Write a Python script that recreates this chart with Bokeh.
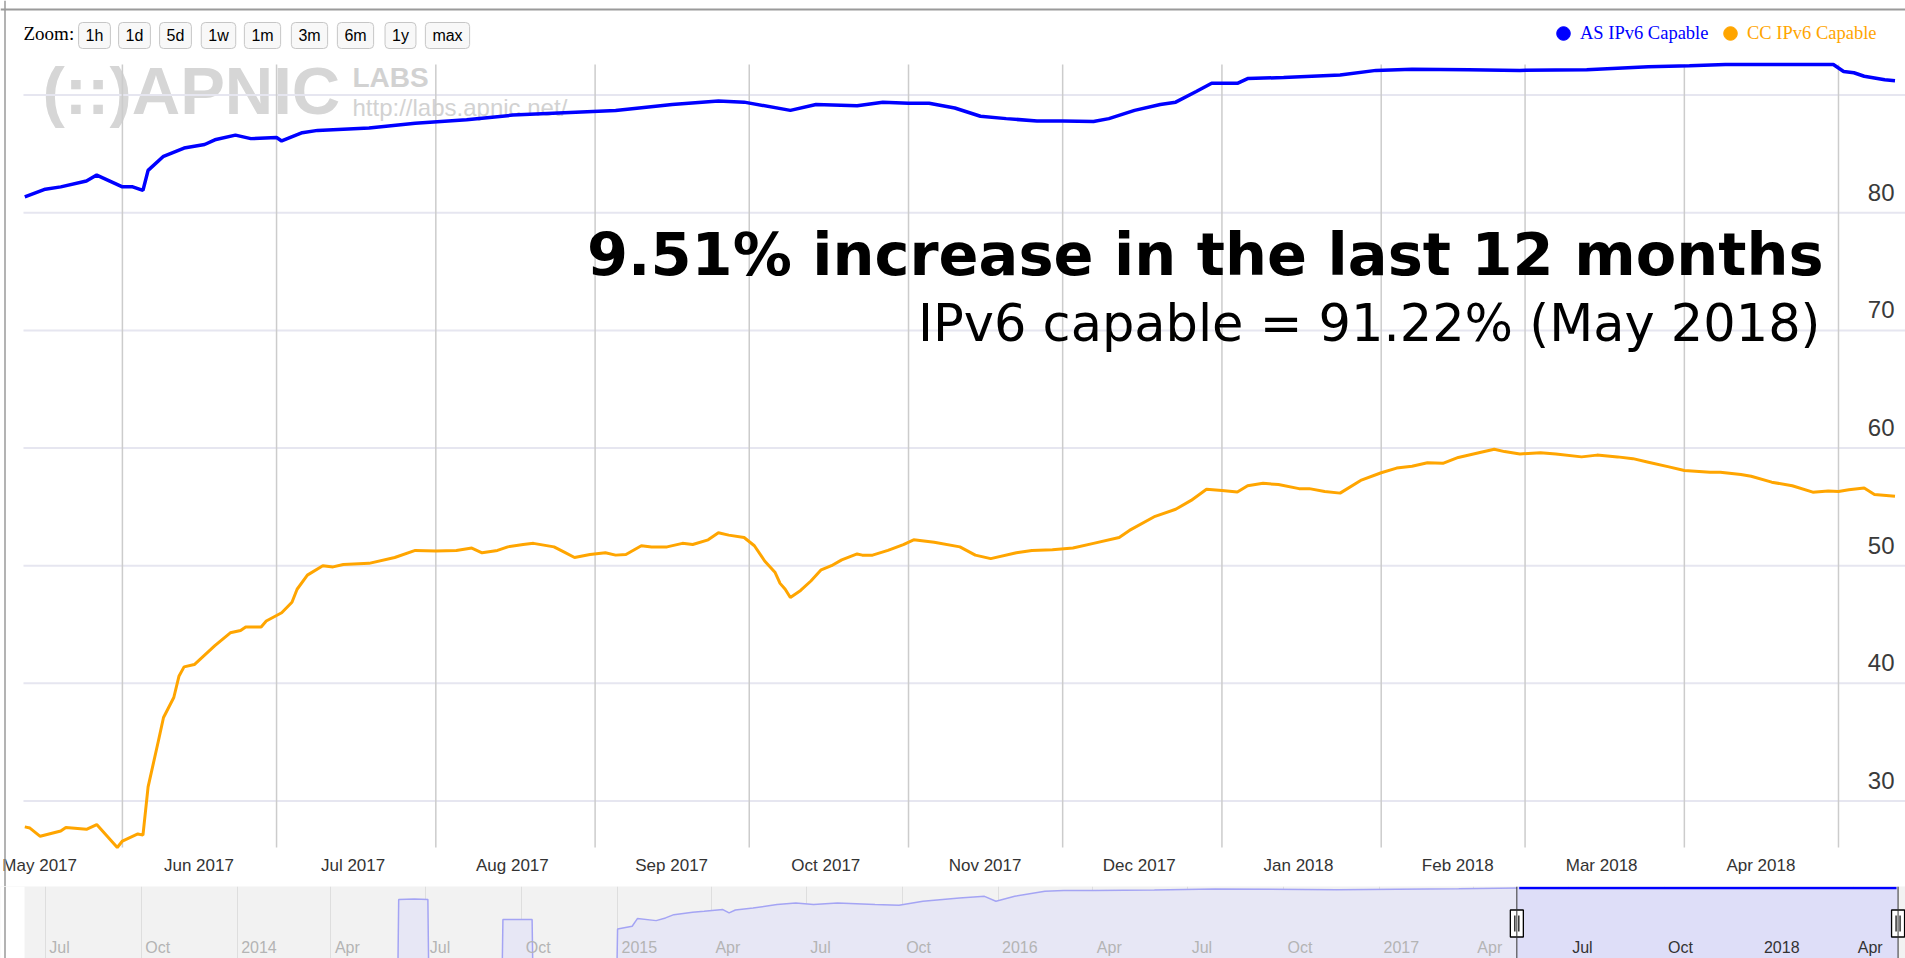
import pandas as pd
from bokeh.plotting import figure
from bokeh.layouts import column
from bokeh.models import (Range1d, FixedTicker, Label, Legend, LegendItem, Span, BoxAnnotation)
from bokeh.core.properties import value
from bokeh.embed import file_html
from bokeh.resources import INLINE

# ------------------------------------------------------------------ data
series_names = ["AS IPv6 Capable", "CC IPv6 Capable"]
series_colors = ["#0000ff", "#ffa500"]

as_dates = ["2017-05-13", "2017-05-17", "2017-05-20", "2017-05-25", "2017-05-27", "2017-06-01",
            "2017-06-03", "2017-06-05", "2017-06-06", "2017-06-09", "2017-06-13", "2017-06-17",
            "2017-06-19", "2017-06-23", "2017-06-26", "2017-07-01", "2017-07-02", "2017-07-06",
            "2017-07-09", "2017-07-19", "2017-07-28", "2017-08-07", "2017-08-16", "2017-08-26",
            "2017-09-05", "2017-09-16", "2017-09-25", "2017-09-30", "2017-10-09", "2017-10-14",
            "2017-10-22", "2017-10-27", "2017-11-01", "2017-11-05", "2017-11-10", "2017-11-15",
            "2017-11-20", "2017-11-26", "2017-12-01", "2017-12-07", "2017-12-10", "2017-12-15",
            "2017-12-20", "2017-12-23", "2017-12-27", "2017-12-30", "2018-01-04", "2018-01-06",
            "2018-01-13", "2018-01-24", "2018-01-31", "2018-02-07", "2018-02-18", "2018-02-28",
            "2018-03-13", "2018-03-25", "2018-04-02", "2018-04-09", "2018-04-30", "2018-05-02",
            "2018-05-04", "2018-05-06", "2018-05-10", "2018-05-12"]
as_values = [81.35, 82.0, 82.2, 82.7, 83.2, 82.2, 82.2, 81.9, 83.6, 84.8, 85.5, 85.8,
             86.2, 86.6, 86.3, 86.4, 86.1, 86.8, 87.0, 87.2, 87.6, 87.9, 88.3, 88.5,
             88.7, 89.2, 89.5, 89.4, 88.7, 89.2, 89.1, 89.4, 89.3, 89.3, 88.9, 88.2,
             88.0, 87.8, 87.8, 87.75, 88.0, 88.7, 89.2, 89.4, 90.3, 91.0, 91.0, 91.4,
             91.5, 91.7, 92.1, 92.2, 92.15, 92.1, 92.15, 92.4, 92.5, 92.6, 92.6, 92.0,
             91.9, 91.6, 91.3, 91.22]

cc_dates = ["2017-05-13", "2017-05-14", "2017-05-16", "2017-05-20", "2017-05-21", "2017-05-25",
            "2017-05-27", "2017-05-31", "2017-06-01", "2017-06-04", "2017-06-05", "2017-06-06",
            "2017-06-08", "2017-06-09", "2017-06-11", "2017-06-12", "2017-06-13", "2017-06-15",
            "2017-06-18", "2017-06-19", "2017-06-22", "2017-06-24", "2017-06-25", "2017-06-28",
            "2017-06-29", "2017-07-02", "2017-07-04", "2017-07-05", "2017-07-07", "2017-07-10",
            "2017-07-12", "2017-07-14", "2017-07-19", "2017-07-24", "2017-07-28", "2017-08-01",
            "2017-08-05", "2017-08-08", "2017-08-10", "2017-08-13", "2017-08-15", "2017-08-18",
            "2017-08-20", "2017-08-24", "2017-08-26", "2017-08-28", "2017-08-31", "2017-09-03",
            "2017-09-05", "2017-09-07", "2017-09-10", "2017-09-12", "2017-09-15", "2017-09-18",
            "2017-09-20", "2017-09-23", "2017-09-25", "2017-09-27", "2017-09-30", "2017-10-02",
            "2017-10-04", "2017-10-06", "2017-10-07", "2017-10-08", "2017-10-09", "2017-10-11",
            "2017-10-13", "2017-10-15", "2017-10-17", "2017-10-19", "2017-10-22", "2017-10-23",
            "2017-10-25", "2017-10-28", "2017-10-31", "2017-11-02", "2017-11-06", "2017-11-11",
            "2017-11-14", "2017-11-17", "2017-11-22", "2017-11-25", "2017-11-29", "2017-12-03",
            "2017-12-07", "2017-12-12", "2017-12-14", "2017-12-19", "2017-12-23", "2017-12-26",
            "2017-12-29", "2018-01-01", "2018-01-04", "2018-01-06", "2018-01-09", "2018-01-12",
            "2018-01-16", "2018-01-18", "2018-01-21", "2018-01-24", "2018-01-28", "2018-02-01",
            "2018-02-04", "2018-02-07", "2018-02-10", "2018-02-13", "2018-02-16", "2018-02-20",
            "2018-02-23", "2018-02-25", "2018-02-28", "2018-03-04", "2018-03-07", "2018-03-12",
            "2018-03-15", "2018-03-19", "2018-03-22", "2018-03-25", "2018-03-29", "2018-04-01",
            "2018-04-06", "2018-04-08", "2018-04-12", "2018-04-14", "2018-04-18", "2018-04-22",
            "2018-04-26", "2018-04-29", "2018-05-01", "2018-05-03", "2018-05-06", "2018-05-08",
            "2018-05-12"]
cc_values = [27.8, 27.7, 27.0, 27.45, 27.75, 27.6,
             28.0, 26.05, 26.6, 27.2, 27.1, 31.2,
             35.1, 37.1, 38.8, 40.6, 41.4, 41.6,
             42.8, 43.2, 44.3, 44.5, 44.8, 44.8,
             45.3, 46.0, 46.9, 48.0, 49.2, 50.0,
             49.9, 50.1, 50.2, 50.7, 51.3, 51.25,
             51.3, 51.5, 51.1, 51.3, 51.6, 51.8,
             51.9, 51.6, 51.15, 50.7, 50.95, 51.1,
             50.9, 50.95, 51.7, 51.6, 51.6, 51.9,
             51.8, 52.2, 52.8, 52.6, 52.4, 51.7,
             50.4, 49.45, 48.5, 48.0, 47.3, 47.9,
             48.7, 49.65, 50.0, 50.5, 51.0, 50.9,
             50.9, 51.3, 51.8, 52.2, 52.0, 51.6,
             50.9, 50.6, 51.1, 51.3, 51.35, 51.5,
             51.9, 52.4, 53.0, 54.2, 54.8, 55.55,
             56.5, 56.4, 56.26, 56.8, 57.0, 56.9,
             56.55, 56.55, 56.3, 56.17, 57.25, 57.9,
             58.3, 58.45, 58.75, 58.7, 59.2, 59.6,
             59.9, 59.7, 59.5, 59.6, 59.5, 59.25,
             59.4, 59.25, 59.1, 58.8, 58.4, 58.1,
             57.95, 57.95, 57.75, 57.6, 57.1, 56.8,
             56.25, 56.35, 56.3, 56.45, 56.6, 56.05,
             55.9]

# navigator (overview) series, in the navigator's own scale
nav_dates = ["2013-06-11", "2014-06-04", "2014-06-05", "2014-06-20", "2014-07-03", "2014-07-04",
             "2014-09-12", "2014-09-13", "2014-10-11", "2014-10-12", "2014-12-31", "2015-01-01",
             "2015-01-15", "2015-01-20", "2015-02-07", "2015-02-16", "2015-02-24", "2015-03-14",
             "2015-03-25", "2015-04-12", "2015-04-18", "2015-04-24", "2015-05-11", "2015-06-03",
             "2015-06-21", "2015-07-08", "2015-07-31", "2015-09-05", "2015-09-28", "2015-10-21",
             "2015-11-25", "2015-12-19", "2015-12-30", "2016-01-17", "2016-02-15", "2016-03-04",
             "2016-04-02", "2016-05-30", "2016-07-27", "2016-11-21", "2017-03-18", "2017-05-15",
             "2018-05-12"]
nav_values = [0, 0, 81.4, 82.0, 81.4, 0,
              0, 63.7, 63.7, 0, 0, 55.4,
              57.8, 64.6, 62.8, 65.2, 68.1, 70.2,
              71.1, 72.6, 69.6, 72.2, 74.0, 77.0,
              78.4, 77.0, 78.4, 77.0, 76.4, 79.9,
              82.8, 84.3, 79.9, 84.3, 88.8, 89.4,
              89.4, 89.8, 90.8, 90.2, 91.0, 91.7,
              91.7]

y_label_values = [30, 40, 50, 60, 70, 80]
y_grid_values = [30, 40, 50, 60, 70, 80, 90]
zoom_buttons = ["1h", "1d", "5d", "1w", "1m", "3m", "6m", "1y", "max"]
zoom_title = "Zoom:"
headline = "9.51% increase in the last 12 months"
subline = "IPv6 capable = 91.22% (May 2018)"
logo_texts = ["(::)APNIC", "LABS", "http://labs.apnic.net/"]

view_start = pd.Timestamp("2017-05-12 18:00")   # left edge of the data area
view_end = pd.Timestamp("2018-05-14 01:00")     # right edge of the data area
sel_end = pd.Timestamp("2018-05-13 12:00")      # right navigator handle
nav_start = pd.Timestamp("2013-06-11")
nav_end = pd.Timestamp("2018-05-12")
NAV_Y1 = 93.0
NAV_PX_PER_UNIT = 1.13

# ------------------------------------------------------------------ layout constants
W, H_MAIN, H_NAV = 1905, 886, 72
DATA_L, DATA_R = 23, 1905        # page x of view_start / view_end
DATA_T, DATA_B = 64, 847         # page y of data max / data min
NAV_L, NAV_R = 24, 1896          # page x of nav_start / nav_end
TXT_SHIFT = 0.4                  # baseline correction (em)
BORDER = "#9a9a9a"


def sx(px):
    return px


def sy(py):
    return H_MAIN - py


def to_ms(ts):
    return pd.Timestamp(ts).value // 10**6


as_x = pd.to_datetime(as_dates)
cc_x = pd.to_datetime(cc_dates)
nav_x = pd.to_datetime(nav_dates)

ymin = min(min(as_values), min(cc_values))
ymax = max(max(as_values), max(cc_values))

ms_per_px = (to_ms(view_end) - to_ms(view_start)) / (DATA_R - DATA_L)
x_lo = to_ms(view_start) - DATA_L * ms_per_px
x_hi = to_ms(view_end) + (W - DATA_R) * ms_per_px
u_per_px = (ymax - ymin) / (DATA_B - DATA_T)
y_lo = ymin - (H_MAIN - DATA_B) * u_per_px
y_hi = ymax + DATA_T * u_per_px

# ------------------------------------------------------------------ main chart
p = figure(width=W, height=H_MAIN, x_axis_location=None, y_axis_location=None,
           x_range=Range1d(x_lo, x_hi), y_range=Range1d(y_lo, y_hi),
           output_backend="svg", toolbar_location=None,
           min_border_left=0, min_border_right=0, min_border_top=0, min_border_bottom=0)
p.outline_line_color = None
p.background_fill_color = "white"
p.border_fill_color = "white"
p.xgrid.visible = False
p.ygrid.visible = False

# watermark logo
logo_specs = [
    (logo_texts[0], 42, 117, "bold", 67, "#d6d6d6"),
    (logo_texts[1], 352, 88, "bold", 28, "#d2d2d2"),
    (logo_texts[2], 352, 117, "normal", 24, "#d2d2d2"),
]
for txt, px, py, style, size, col in logo_specs:
    p.add_layout(Label(x=sx(px), y=sy(py - TXT_SHIFT * size), x_units="screen", y_units="screen",
                       text=txt, text_font="Liberation Sans", text_font_style=style,
                       text_font_size=f"{size}px", text_color=col, text_align="left",
                       text_baseline="alphabetic", level="underlay"))

# grid lines (only across the data area)
grid_months = pd.date_range("2017-06-01", "2018-05-01", freq="MS")
p.segment(x0=[view_start] * len(y_grid_values), y0=y_grid_values,
          x1=[view_end] * len(y_grid_values), y1=y_grid_values,
          line_color="#e6e6f0", line_width=2)
p.segment(x0=list(grid_months), y0=[ymin] * len(grid_months),
          x1=list(grid_months), y1=[ymax] * len(grid_months),
          line_color="#cccccc", line_width=1.5)

# series lines
p.line(as_x, as_values, line_color=series_colors[0], line_width=3.5)
p.line(cc_x, cc_values, line_color=series_colors[1], line_width=3)

# y tick labels, inside the plot area above their grid lines
p.text(x=[view_end] * len(y_label_values), y=y_label_values,
       text=[str(v) for v in y_label_values], x_offset=-11, y_offset=-11 - TXT_SHIFT * 24,
       text_align="right", text_baseline="alphabetic",
       text_font=value("Liberation Sans"), text_font_size="24px", text_color="#3a3a3a")

# x tick labels (month names, centred half a month after the grid line)
label_months = pd.date_range("2017-05-01", "2018-05-01", freq="MS")
label_pos = [m + pd.Timedelta(days=14.9) for m in label_months]
keep = [i for i, t in enumerate(label_pos) if t <= view_end]
p.text(x=[label_pos[i] for i in keep], y=[ymin] * len(keep),
       text=[label_months[i].strftime("%b %Y") for i in keep],
       y_offset=25 - TXT_SHIFT * 17, text_align="center", text_baseline="alphabetic",
       text_font=value("Liberation Sans"), text_font_size="17px", text_color="#333333")

# legend (dots)
dot_as = p.scatter(x=[as_x[-1]], y=[as_values[-1]], marker="circle", size=14,
                   color=series_colors[0], visible=False)
dot_cc = p.scatter(x=[cc_x[-1]], y=[cc_values[-1]], marker="circle", size=14,
                   color=series_colors[1], visible=False)
for rend, name, col, dot_cx in [(dot_as, series_names[0], series_colors[0], 1563),
                                (dot_cc, series_names[1], series_colors[1], 1730)]:
    lg = Legend(items=[LegendItem(label=name, renderers=[rend])],
                location=(sx(dot_cx - 17), sy(33 + 17)), orientation="horizontal",
                padding=0, margin=0, spacing=0, glyph_width=34, glyph_height=34,
                label_standoff=-5, label_height=20,
                label_text_font="Liberation Serif", label_text_font_size="18.5px",
                label_text_color=col, background_fill_alpha=0, border_line_alpha=0)
    p.add_layout(lg)

# range selector
p.add_layout(Label(x=sx(23), y=sy(41 - TXT_SHIFT * 19), x_units="screen", y_units="screen",
                   text=zoom_title, text_font="Liberation Serif", text_font_size="19px",
                   text_color="black", text_align="left", text_baseline="alphabetic"))
BTN_CX = [94, 134, 175, 218, 262, 309, 355, 400, 447]
for txt, cx in zip(zoom_buttons, BTN_CX):
    p.add_layout(Label(x=sx(cx), y=sy(35), x_units="screen", y_units="screen", text=txt,
                       text_font="Liberation Sans", text_font_size="16px", text_color="black",
                       text_align="center", text_baseline="middle",
                       padding=dict(left=7, right=7, top=4, bottom=5), border_radius=4,
                       background_fill_color="#f8f8f8", border_line_color="#c6c6c6",
                       border_line_width=1))

# annotation text
p.add_layout(Label(x=sx(1823), y=sy(278 - TXT_SHIFT * 59), x_units="screen", y_units="screen",
                   text=headline, text_font="DejaVu Sans", text_font_style="bold",
                   text_font_size="59px", text_color="black", text_align="right",
                   text_baseline="alphabetic"))
p.add_layout(Label(x=sx(1820), y=sy(343 - TXT_SHIFT * 51), x_units="screen", y_units="screen",
                   text=subline, text_font="DejaVu Sans", text_font_size="51px",
                   text_color="black", text_align="right", text_baseline="alphabetic"))

# container border (top and left)
p.add_layout(Span(location=sy(9), location_units="screen", dimension="width",
                  line_color=BORDER, line_width=2))
p.add_layout(Span(location=4.5, location_units="screen", dimension="height",
                  line_color=BORDER, line_width=1.5))

# ------------------------------------------------------------------ navigator
nav_ms_per_px = (to_ms(nav_end) - to_ms(nav_start)) / (NAV_R - NAV_L)
nx_lo = to_ms(nav_start) - NAV_L * nav_ms_per_px
nx_hi = to_ms(nav_end) + (W - NAV_R) * nav_ms_per_px
NAV_Y0 = NAV_Y1 - H_NAV / NAV_PX_PER_UNIT

nav = figure(width=W, height=H_NAV, x_axis_location=None, y_axis_location=None,
             x_range=Range1d(nx_lo, nx_hi), y_range=Range1d(NAV_Y0, NAV_Y1),
             output_backend="svg", toolbar_location=None,
             min_border_left=0, min_border_right=0, min_border_top=0, min_border_bottom=0)
nav.background_fill_color = "#f2f2f2"
nav.border_fill_color = "white"
nav.outline_line_color = None

quarters = pd.date_range("2013-07-01", "2018-04-01", freq="QS")
nav.xgrid.ticker = FixedTicker(ticks=[to_ms(q) for q in quarters])
nav.xgrid.grid_line_color = "#dedede"
nav.xgrid.grid_line_width = 1
nav.ygrid.visible = False

nav.varea(x=nav_x, y1=0, y2=nav_values, fill_color="#e7e7f5")
nav.line(nav_x, nav_values, line_color="#a4a4f4", line_width=1.5)

nav.quad(left=[view_start], right=[sel_end], bottom=[NAV_Y0], top=[NAV_Y1],
         fill_color="#dcdcf8", fill_alpha=0.85, line_color=None)
sel = [i for i, d in enumerate(nav_x) if d >= view_start]
nav.line([nav_x[i] for i in sel], [nav_values[i] for i in sel], line_color="#0000ff",
         line_width=2.5)

q_labels = [str(q.year) if q.month == 1 else q.strftime("%b") for q in quarters]
q_colors = ["#333333" if view_start <= q <= sel_end else "#b4b4b4" for q in quarters]
nav.text(x=list(quarters), y=[NAV_Y0] * len(quarters), text=q_labels, x_offset=4,
         y_offset=-5 - TXT_SHIFT * 16, text_align="left", text_baseline="alphabetic",
         text_font=value("Liberation Sans"), text_font_size="16px", text_color=q_colors)

# white strip left of the navigator + container border
nav.add_layout(BoxAnnotation(right=to_ms(nav_start), fill_color="white", fill_alpha=1,
                             line_alpha=0))
nav.add_layout(Span(location=4.5, location_units="screen", dimension="height",
                    line_color=BORDER, line_width=1.5))

# handles
for loc in (view_start, sel_end):
    nav.add_layout(Span(location=to_ms(loc), dimension="height", line_color="#333333",
                        line_width=1))
val_per_px = (NAV_Y1 - NAV_Y0) / H_NAV
hy = NAV_Y1 - (923 - 886) * val_per_px
nav.rect(x=[view_start, sel_end], y=[hy, hy], width=13, height=27, width_units="screen",
         height_units="screen", fill_color="white", line_color="black", line_width=1.3)
gx = []
for loc in (view_start, sel_end):
    gx += [to_ms(loc) - 2 * nav_ms_per_px, to_ms(loc) + 2 * nav_ms_per_px]
nav.segment(x0=gx, y0=[hy - 8 * val_per_px] * 4, x1=gx, y1=[hy + 8 * val_per_px] * 4,
            line_color="black", line_width=1.2)

layout = column(p, nav, spacing=0)
open("out.html", "w").write(file_html(layout, INLINE, "IPv6 capable"))
